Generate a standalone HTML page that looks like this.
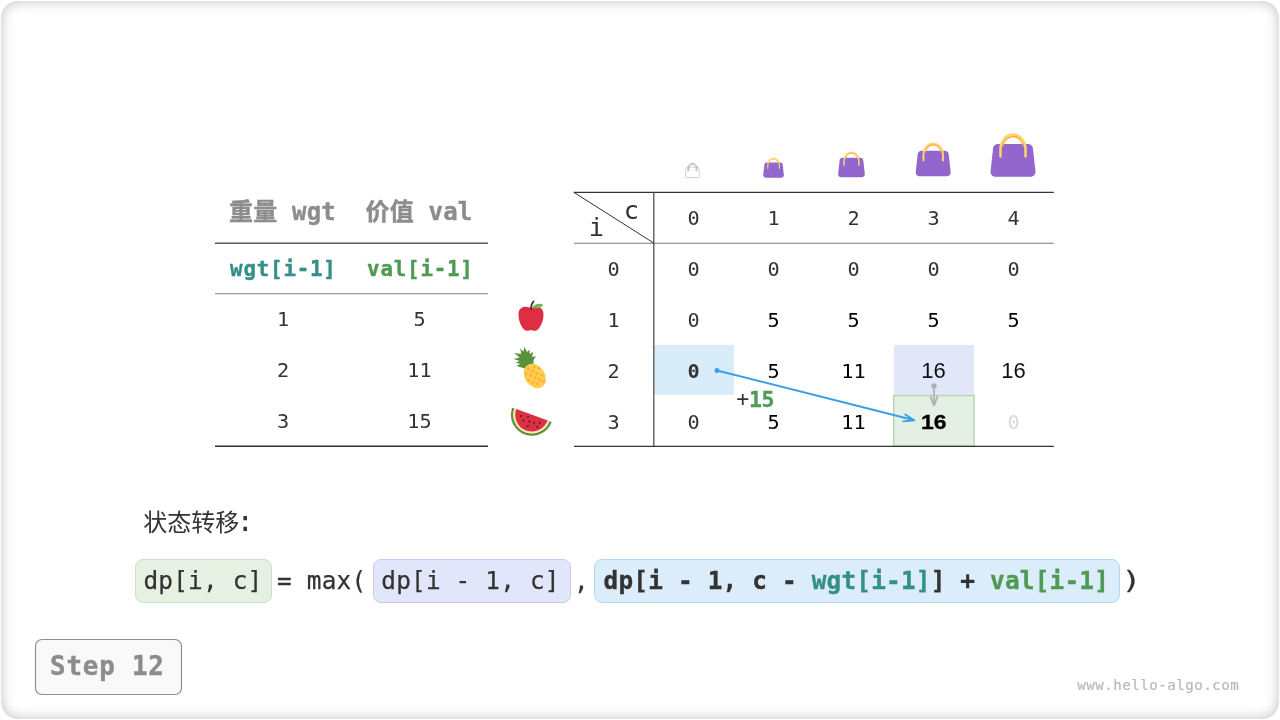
<!DOCTYPE html>
<html lang="zh-CN">
<head>
<meta charset="utf-8">
<title>0-1 背包 动态规划 Step 12</title>
<style>
  html, body { margin: 0; padding: 0; background: #ffffff; }
  body { width: 1280px; height: 720px; position: relative; overflow: hidden; }
  .card {
    position: absolute; left: 1px; top: 1px; width: 1278px; height: 718px;
    border-radius: 17px; background: #ffffff;
    box-shadow: inset 0 0 13px rgba(0,0,0,0.25);
  }
  svg { position: absolute; left: 0; top: 0; }
  .mono { font-family: "DejaVu Sans Mono", "Liberation Mono", "Noto Sans CJK SC", monospace; }
  .sans { font-family: "Liberation Sans", "DejaVu Sans", "Noto Sans CJK SC", sans-serif; }
  .cjk  { font-family: "DejaVu Sans Mono", "Liberation Mono", "Noto Sans CJK SC", sans-serif; }
  .num  { font-size: 20.200px; fill: #333333; text-anchor: middle; }
  .b { font-weight: bold; }
</style>
</head>
<body>
<div class="card"></div>
<svg width="1280" height="720" viewBox="0 0 1280 720">

<!-- bags -->
  <g transform="translate(685,163.100) scale(0.4167)" fill="none" stroke="#a8a8a8" stroke-width="1.300">
    <path d="M35.300 31.200c0 1.800-1.500 3.300-3.300 3.300H4c-1.800 0-3.300-1.500-3.300-3.300l2-18.200c0-1.800 1.500-3.300 3.300-3.300h24c1.800 0 3.300 1.500 3.300 3.300l2 18.200z"/>
    <path stroke="#8c8c8c" d="M7 19.500V13a11 12.500 0 0 1 22 0V19.500M9.300 19.500V13a8.700 10.200 0 0 1 17.400 0V19.500"/>
  </g>
  <g transform="translate(763.200,157.400) scale(0.575)">
    <path fill="#9266cc" d="M36 31.200c0 2.209-1.791 4-4 4H4c-2.209 0-4-1.791-4-4l2-18.200c0-2.209 1.791-4 4-4h24c2.209 0 4 1.791 4 4l2 18.200z"/>
    <path fill="none" stroke="#ffd36e" stroke-width="2" stroke-linecap="round" d="M8 19V13a10 11.500 0 0 1 20 0V19"/>
    <path fill="none" stroke="#ffac33" stroke-width="1.200" d="M9.600 11A8.600 10.200 0 0 1 26.400 11"/>
  </g>
  <g transform="translate(838.100,151.100) scale(0.742)">
    <path fill="#9266cc" d="M36 31.200c0 2.209-1.791 4-4 4H4c-2.209 0-4-1.791-4-4l2-18.200c0-2.209 1.791-4 4-4h24c2.209 0 4 1.791 4 4l2 18.200z"/>
    <path fill="none" stroke="#ffd36e" stroke-width="2" stroke-linecap="round" d="M8 19V13a10 11.500 0 0 1 20 0V19"/>
    <path fill="none" stroke="#ffac33" stroke-width="1.200" d="M9.600 11A8.600 10.200 0 0 1 26.400 11"/>
  </g>
  <g transform="translate(915.700,142.050) scale(0.972)">
    <path fill="#9266cc" d="M36 31.200c0 2.209-1.791 4-4 4H4c-2.209 0-4-1.791-4-4l2-18.200c0-2.209 1.791-4 4-4h24c2.209 0 4 1.791 4 4l2 18.200z"/>
    <path fill="none" stroke="#ffd36e" stroke-width="2" stroke-linecap="round" d="M8 19V13a10 11.500 0 0 1 20 0V19"/>
    <path fill="none" stroke="#ffac33" stroke-width="1.200" d="M9.600 11A8.600 10.200 0 0 1 26.400 11"/>
  </g>
  <g transform="translate(990.500,132.650) scale(1.250)">
    <path fill="#9266cc" d="M36 31.200c0 2.209-1.791 4-4 4H4c-2.209 0-4-1.791-4-4l2-18.200c0-2.209 1.791-4 4-4h24c2.209 0 4 1.791 4 4l2 18.200z"/>
    <path fill="none" stroke="#ffd36e" stroke-width="2" stroke-linecap="round" d="M8 19V13a10 11.500 0 0 1 20 0V19"/>
    <path fill="none" stroke="#ffac33" stroke-width="1.200" d="M9.600 11A8.600 10.200 0 0 1 26.400 11"/>
  </g>

  <!-- apple -->
  <g transform="translate(516,300.8) scale(0.8333)">
    <path fill="#dd2e44" d="M24 7c-3 0-3.500 1-6 1s-3-1-6-1c-4 0-9 2-9 9 0 11 6 20 10 20 3 0 3-1 5-1s2 1 5 1c4 0 10-9 10-20 0-7-5-9-9-9z"/>
    <path fill="#77b255" d="M19.600 8.200c1.400-3.600 6.400-6.400 13.200-3.600-2.400 4-8.200 5.400-13.200 3.600z"/>
    <path fill="none" stroke="#662113" stroke-width="2" stroke-linecap="round" d="M18 9.600c0-3.600 1-6.800 3.200-9"/>
  </g>

  <!-- pineapple -->
  <g>
    <path fill="#5c913b" d="M525.800 368.800L516.400 366l3.800-1.900-4.500-1.600 4-1.500-6.100-2 6.100-1.600-5.700-4.300 7.200.9-1-5.700 3 3.400 1.200-4.700 2.700 5 2.500-2.400v4.400l3.500-1.900-1 4.900 3.800-.8-2.300 3.800-.3 5z"/>
    <ellipse cx="534.800" cy="376" rx="10" ry="13.100" fill="#ffcc4d" transform="rotate(-35 534.800 376)"/>
    <g fill="#ffac33">
      <circle cx="534.500" cy="366.700" r="1.300"/><circle cx="539" cy="368.400" r="1.300"/>
      <circle cx="528.200" cy="369.100" r="1.300"/><circle cx="532.700" cy="371.200" r="1.300"/>
      <circle cx="536.900" cy="373.300" r="1.300"/><circle cx="541.800" cy="375" r="1.300"/>
      <circle cx="526.100" cy="373.900" r="1.300"/><circle cx="530.700" cy="375.800" r="1.300"/>
      <circle cx="535.200" cy="377.800" r="1.300"/><circle cx="539.700" cy="379.800" r="1.300"/>
      <circle cx="543.800" cy="381.600" r="1.300"/><circle cx="528.600" cy="380.200" r="1.300"/>
      <circle cx="533.100" cy="382.300" r="1.300"/><circle cx="537.600" cy="384" r="1.300"/>
    </g>
  </g>

  <!-- watermelon -->
  <g transform="translate(531.900,414.800) rotate(19.900)">
    <path fill="#5c913b" d="M-21 0A21 21 0 0 0 21 0z"/>
    <path fill="#ffe8b6" d="M-18.800 0A18.800 18.800 0 0 0 18.800 0z"/>
    <path fill="#dd2e44" d="M-16.700 0A16.700 16.700 0 0 0 16.700 0z"/>
  </g>
  <g fill="#1c1f22">
    <ellipse cx="521" cy="415.900" rx="1.100" ry="0.700" transform="rotate(-45 521 415.900)"/>
    <ellipse cx="528" cy="416.900" rx="1.100" ry="0.700" transform="rotate(-45 528 416.900)"/>
    <ellipse cx="523.400" cy="420.400" rx="1.100" ry="0.700" transform="rotate(70 523.400 420.400)"/>
    <ellipse cx="529.200" cy="421.600" rx="1.100" ry="0.700" transform="rotate(45 529.200 421.600)"/>
    <ellipse cx="533.900" cy="422.750" rx="1.100" ry="0.700" transform="rotate(45 533.900 422.750)"/>
    <ellipse cx="539.800" cy="422.750" rx="1.100" ry="0.700" transform="rotate(-45 539.800 422.750)"/>
    <ellipse cx="527.900" cy="426" rx="1.100" ry="0.700" transform="rotate(-45 527.900 426)"/>
    <ellipse cx="537.400" cy="427.200" rx="1.100" ry="0.700" transform="rotate(80 537.400 427.200)"/>
  </g>

  <!-- highlighted cells -->
  <rect x="654" y="345" width="79.900" height="49.800" fill="#d9ecfa"/>
  <rect x="894" y="345" width="80" height="51" fill="#e1e6f9"/>
  <rect x="893.750" y="395.550" width="80.300" height="50.600" fill="#e5f0e4" stroke="#b3d5b0" stroke-width="1.400"/>

  <!-- left table lines -->
  <line x1="215" y1="243.250" x2="488" y2="243.250" stroke="#5a5a5a" stroke-width="1.400"/>
  <line x1="215" y1="293.750" x2="488" y2="293.750" stroke="#808080" stroke-width="1.150"/>
  <line x1="215" y1="446.250" x2="488" y2="446.250" stroke="#2e2e2e" stroke-width="1.400"/>

  <!-- right table lines -->
  <line x1="573.800" y1="192.350" x2="1053.800" y2="192.350" stroke="#333333" stroke-width="1.300"/>
  <line x1="574" y1="243.250" x2="1053.800" y2="243.250" stroke="#7a7a7a" stroke-width="1.100"/>
  <line x1="574" y1="446.350" x2="1053.800" y2="446.350" stroke="#333333" stroke-width="1.300"/>
  <line x1="653.790" y1="192.350" x2="653.790" y2="446.350" stroke="#555555" stroke-width="1.330"/>
  <line x1="573.800" y1="192.300" x2="654" y2="243.200" stroke="#333333" stroke-width="1"/>

  <!-- left table text -->
  <g class="cjk b" font-size="24" fill="#8c8c8c" stroke="#8c8c8c" stroke-width="0.400" letter-spacing="0.200">
    <text x="229" y="219.5" xml:space="preserve">重量 wgt</text>
    <text x="365.5" y="219.5" xml:space="preserve">价值 val</text>
  </g>
  <g class="mono b" font-size="20.8" letter-spacing="0.8" text-anchor="middle">
    <text x="283.400" y="275.500" fill="#338f88" stroke="#338f88" stroke-width="0.400">wgt[i-1]</text>
    <text x="420.400" y="275.500" fill="#4f9a52" stroke="#4f9a52" stroke-width="0.400">val[i-1]</text>
  </g>
  <g class="mono num" transform="translate(0.500,0)">
    <text x="282.5" y="326.300">1</text>
    <text x="419" y="326.300">5</text>
    <text x="282.5" y="377.300">2</text>
    <text x="419" y="377.300">11</text>
    <text x="282.5" y="428.300">3</text>
    <text x="419" y="428.300">15</text>
  </g>

  <!-- right table header -->
  <g class="mono" font-size="25.4" fill="#333333" text-anchor="middle">
    <text x="631.500" y="219.400">c</text>
    <text x="596.5" y="235.5">i</text>
  </g>
  <g class="mono num" transform="translate(0.500,0)">
    <text x="693" y="224.800">0</text>
    <text x="773" y="224.800">1</text>
    <text x="853" y="224.800">2</text>
    <text x="933" y="224.800">3</text>
    <text x="1013" y="224.800">4</text>
  </g>

  <!-- right table body -->
  <g class="mono num" transform="translate(0.500,0)">
    <text x="613" y="275.800">0</text>
    <text x="693" y="275.800">0</text>
    <text x="773" y="275.800">0</text>
    <text x="853" y="275.800">0</text>
    <text x="933" y="275.800">0</text>
    <text x="1013" y="275.800">0</text>

    <text x="613" y="326.800">1</text>
    <text x="693" y="326.800">0</text>
    <text x="773" y="326.800" fill="#000000">5</text>
    <text x="853" y="326.800" fill="#000000">5</text>
    <text x="933" y="326.800" fill="#000000">5</text>
    <text x="1013" y="326.800" fill="#000000">5</text>

    <text x="613" y="377.800">2</text>
    <text x="693" y="377.800" class="b" fill="#333333">0</text>
    <text x="773" y="377.800" fill="#000000">5</text>
    <text x="853" y="377.800" fill="#000000">11</text>

    <text x="613" y="428.800">3</text>
    <text x="693" y="428.800">0</text>
    <text x="773" y="428.800" fill="#000000">5</text>
    <text x="853" y="428.800" fill="#000000">11</text>
    <text x="1013" y="428.800" fill="#d9d9d9">0</text>
  </g>
  <g class="sans" font-size="22" fill="#111111" text-anchor="middle">
    <text x="933.500" y="377.500">16</text>
    <text x="1013.500" y="377.500">16</text>
    <text transform="translate(933.700,428.900) scale(1,0.900)" class="b" font-size="23" fill="#000000" stroke="#000000" stroke-width="0.350">16</text>
  </g>

  <!-- +15 label -->
  <text class="mono" x="736.200" y="406.600" font-size="21.600" letter-spacing="-0.300" fill="#333333"><tspan dy="-1">+</tspan><tspan class="b" dy="1" fill="#4f9a52" stroke="#4f9a52" stroke-width="0.300">15</tspan></text>

  <!-- arrows -->
  <g fill="none" stroke="#3a9fe5" stroke-width="1.900" stroke-linecap="round" stroke-linejoin="round">
    <line x1="717" y1="370.500" x2="913.500" y2="420"/>
    <polyline points="905.300,414.500 914.300,420.200 903.300,421.400"/>
    <circle cx="717" cy="370.500" r="2.500" fill="#3a9fe5" stroke="none"/>
  </g>
  <g fill="none" stroke="#b0b0b0" stroke-width="1.700" stroke-linecap="round" stroke-linejoin="round">
    <line x1="934" y1="386" x2="934" y2="404"/>
    <path d="M930.700,397 L934,405.300 L937.300,397" stroke-width="2"/>
    <circle cx="934" cy="385.900" r="2.700" fill="#b0b0b0" stroke="none"/>
  </g>

  <!-- formula -->
  <text class="cjk" x="143.300" y="530.500" font-size="24" fill="#333333">状态转移<tspan dx="-2.800" font-size="29">:</tspan></text>

  <rect x="135.500" y="559.500" width="136" height="43" rx="7.500" fill="#e6f1e4" stroke="#c9e1c5" stroke-width="1"/>
  <rect x="373.500" y="559.500" width="197" height="43" rx="7.500" fill="#e2e6fa" stroke="#c3ccf4" stroke-width="1"/>
  <rect x="594.500" y="559.500" width="525" height="43" rx="7.500" fill="#dbecfa" stroke="#b2d8f6" stroke-width="1"/>

  <g class="mono" font-size="24.400" letter-spacing="0.180" fill="#333333" stroke="#333333" stroke-width="0.250" xml:space="preserve">
    <text x="143.5" y="589">dp[i, c]</text>
    <text x="277.100" y="589">= max(</text>
    <text x="381.300" y="589">dp[i - 1, c]</text>
    <text x="574" y="589.800">,</text>
    <text x="603.600" y="589" class="b" stroke-width="0.350">dp[i - 1, c - <tspan fill="#338f88" stroke="#338f88">wgt[i-1]</tspan>] + <tspan fill="#4f9a52" stroke="#4f9a52">val[i-1]</tspan></text>
    <text transform="translate(1127,589) scale(1.350,1.040) translate(-1127,-589)" x="1123" y="589">)</text>
  </g>

  <!-- step box -->
  <rect x="35.500" y="639.500" width="146" height="55" rx="6.500" fill="#f9f9f9" stroke="#8f8f8f" stroke-width="1.150"/>
  <text class="mono b" x="50" y="675" font-size="25.800" letter-spacing="0.850" fill="#8c8c8c" stroke="#8c8c8c" stroke-width="0.450" xml:space="preserve">Step 12</text>

  <!-- watermark -->
  <text class="mono" x="1077.300" y="689.600" font-size="14.200" letter-spacing="0.450" fill="#b9b9b9" stroke="#b9b9b9" stroke-width="0.200">www.hello-algo.com</text>
</svg>
</body>
</html>
